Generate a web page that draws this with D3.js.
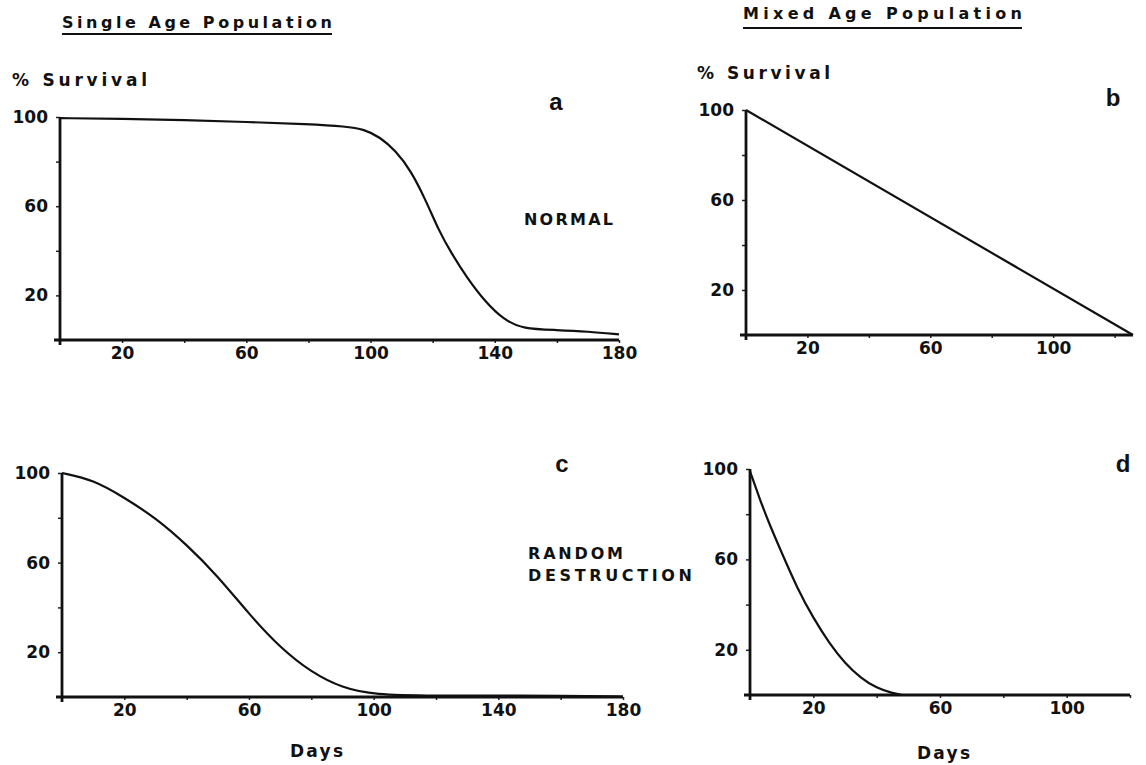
<!DOCTYPE html>
<html><head><meta charset="utf-8">
<script src="https://cdn.jsdelivr.net/npm/d3@7"></script>
<style>body{margin:0;background:#fff}svg{display:block}</style></head>
<body><svg id="chart" width="1146" height="765"></svg>
<script>
// ---- data ----
const daysA = [0,20,40,60,80,92,98,103,108,113,118,122,126,131,137,143,149,160,170,180];
const survivalA = [99.5,99.2,98.6,97.8,96.8,95.8,94.5,91,85,76,62,49,39,28,17,9,5,4.5,3.8,2.5];
const daysB = [0,126];
const survivalB = [100,0];
const daysC = [0,10,20,30,40,50,60,70,80,90,100,120,140,160,180];
const survivalC = [100,97,89,80,68,54,37,22,11,4,1,0.6,0.6,0.6,0.2];
const daysD = [0,3,6,10,15,20,25,30,35,40,45,48];
const survivalD = [99,87,76,63,47,34,23,14,7.5,3,0.8,0];
const xTicksSingle = [20,40,60,80,100,120,140,160,180];
const xLabelsSingle = [20,60,100,140,180];
const xTicksMixed = [20,40,60,80,100,120];
const xLabelsMixed = [20,60,100];
const yTicks = [20,40,60,80,100];
const yLabels = [20,60,100];
const panelLetters = ["a","b","c","d"];
const columnTitles = ["Single Age Population","Mixed Age Population"];
const yTitle = "% Survival";
const xTitle = "Days";
const rowLabels = [["NORMAL"],["RANDOM","DESTRUCTION"]];

// ---- layout ----
const svg = d3.select("#chart");
const FONT = "'DejaVu Sans', sans-serif";
const panels = [
  {days:daysA, surv:survivalA, xDom:[0,180], xR:[60,619], yR:[340,117], ticks:xTicksSingle, labels:xLabelsSingle, letter:[556,110]},
  {days:daysB, surv:survivalB, xDom:[0,126], xR:[746,1133], yR:[335,110], ticks:xTicksMixed, labels:xLabelsMixed, letter:[1113,106]},
  {days:daysC, surv:survivalC, xDom:[0,180], xR:[62,623], yR:[697,473], ticks:xTicksSingle, labels:xLabelsSingle, letter:[562,472]},
  {days:daysD, surv:survivalD, xDom:[0,120], xR:[750,1130], yR:[695,469], ticks:xTicksMixed, labels:xLabelsMixed, letter:[1123,472]}
];

panels.forEach((p,i)=>{
  const x = d3.scaleLinear().domain(p.xDom).range(p.xR);
  const y = d3.scaleLinear().domain([0,100]).range(p.yR);
  const g = svg.append("g");
  const xa = d3.axisBottom(x).tickValues(p.ticks).tickSize(3).tickPadding(4)
      .tickFormat(d => p.labels.includes(d) ? d : "");
  const gx = g.append("g").attr("transform",`translate(0,${p.yR[0]})`).call(xa);
  gx.select(".domain").remove();
  gx.selectAll("line").attr("stroke","#222").attr("stroke-width",1.5);
  gx.selectAll("text").attr("font-family",FONT).attr("font-weight","bold").attr("font-size",17).attr("fill","#111");
  const ya = d3.axisLeft(y).tickValues(yTicks).tickSize(4).tickPadding(8)
      .tickFormat(d => yLabels.includes(d) ? d : "");
  const gy = g.append("g").attr("transform",`translate(${p.xR[0]},0)`).call(ya);
  gy.select(".domain").remove();
  gy.selectAll("line").attr("stroke","#222").attr("stroke-width",1.5);
  gy.selectAll("text").attr("font-family",FONT).attr("font-weight","bold").attr("font-size",17).attr("fill","#111");
  // axis lines
  g.append("line").attr("x1",x(0)-6).attr("x2",x(p.xDom[1])).attr("y1",y(0)).attr("y2",y(0))
    .attr("stroke","#111").attr("stroke-width",2.8);
  g.append("line").attr("x1",x(0)).attr("x2",x(0)).attr("y1",y(0)+5).attr("y2",y(100))
    .attr("stroke","#111").attr("stroke-width",2.8);
  // curve
  const data = p.days.map((d,k)=>[d,p.surv[k]]);
  g.append("path").datum(data)
    .attr("d", d3.line().x(d=>x(d[0])).y(d=>y(d[1])).curve(d3.curveBasis))
    .attr("fill","none").attr("stroke","#111").attr("stroke-width",2.2);
  // panel letter
  g.append("text").attr("x",p.letter[0]).attr("y",p.letter[1]).text(panelLetters[i])
    .attr("font-family","'Liberation Sans Narrow','Liberation Sans',sans-serif").attr("font-weight","bold")
    .attr("font-size",24).attr("text-anchor","middle").attr("fill","#111");
});

function label(txt,x0,yb,w,size){
  return svg.append("text").attr("x",x0).attr("y",yb).text(txt)
    .attr("font-family",FONT).attr("font-weight","bold").attr("font-size",size)
    .attr("fill","#111").attr("textLength",w).attr("lengthAdjust","spacing");
}
// column titles with underline
label(columnTitles[0],62,28,270,16);
svg.append("line").attr("x1",62).attr("x2",332).attr("y1",34).attr("y2",34).attr("stroke","#111").attr("stroke-width",2);
label(columnTitles[1],743,19,279,16);
svg.append("line").attr("x1",743).attr("x2",1022).attr("y1",28).attr("y2",28).attr("stroke","#111").attr("stroke-width",2);
// y titles
label(yTitle,12,86,135,17);
label(yTitle,697,79,133,17);
// row labels
label(rowLabels[0][0],524,225,89,16);
label(rowLabels[1][0],528,559,95,16);
label(rowLabels[1][1],528,581,164,16);
// x titles
label(xTitle,290,757,53,17);
label(xTitle,917,759,53,17);
</script></body></html>
